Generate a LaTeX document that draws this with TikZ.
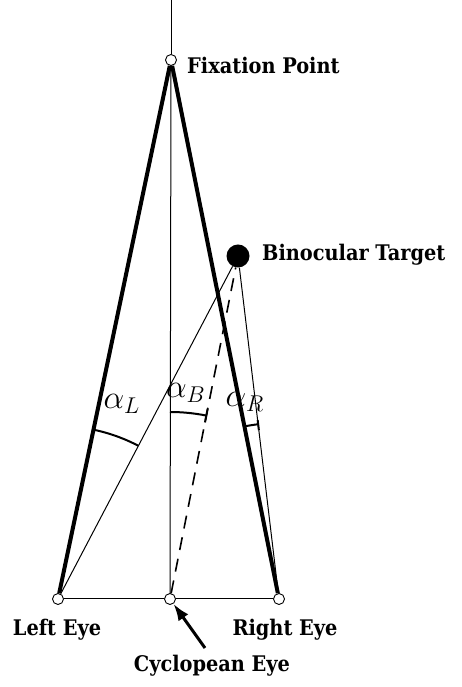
\documentclass[tikz,border=0pt]{standalone}
\usepackage{amsmath}
\usepackage{fontspec}
\newfontfamily\labelfont{DejaVu Serif Condensed}
\usetikzlibrary{arrows.meta, positioning, calc}

\tikzset{
  eye/.style={circle, draw, fill=white, line width=0.9pt, inner sep=0pt, minimum size=11pt},
  target/.style={circle, fill=black, inner sep=0pt, minimum size=23pt},
  bigline/.style={line width=4pt},
  thinline/.style={line width=1pt},
  anglearc/.style={line width=2pt},
  lbl/.style={font=\labelfont\fontsize{21.5}{25}\selectfont\bfseries, inner sep=0pt},
  alph/.style={font=\LARGE, scale=1.9, transform shape, inner sep=0pt}
}

\begin{document}
\begin{tikzpicture}[x=1pt, y=1pt]
  \useasboundingbox (0,0) rectangle (462,687);
  % eyes, fixation point and target (y measured upwards)
  \coordinate (top) at (171,687);
  \node[eye] (fix) at (171,627) {};
  \node[eye] (leye) at (58,88) {};
  \node[eye] (ceye) at (170,88) {};
  \node[eye] (reye) at (279,88) {};
  \node[target] (tgt) at (238,431) {};
  % lines of sight
  \draw[thinline] (top) -- (fix);
  \draw[thinline] (fix) -- (ceye);
  \draw[thinline] (leye) -- (ceye);
  \draw[thinline] (ceye) -- (reye);
  \draw[bigline] (leye) -- (fix);
  \draw[bigline] (reye) -- (fix);
  \draw[thinline] (leye) -- (tgt);
  \draw[thinline] (reye) -- (tgt);
  \draw[line width=1.6pt, dash pattern=on 13pt off 9pt] (ceye) -- (tgt);
  % angles
  \draw[anglearc] (leye) ++(78.2:173pt) arc[start angle=78.2, end angle=62.3, radius=173pt];
  \draw[anglearc] (ceye) ++(90:187pt) arc[start angle=90, end angle=78.8, radius=187pt];
  \draw[anglearc] ($(ceye)+(78.8:180pt)$) -- ($(ceye)+(78.8:194pt)$);
  \draw[anglearc] (reye) ++(101.3:176pt) arc[start angle=101.3, end angle=96.8, radius=176pt];
  \draw[anglearc] ($(reye)+(96.8:170pt)$) -- ($(reye)+(96.8:180pt)$);
  \node[alph] (aL) at (122,283) {$\alpha_L$};
  \node[alph] (aB) at (186,294) {$\alpha_B$};
  \node[alph] (aR) at (245,285) {$\alpha_R$};
  % labels
  \node[lbl, anchor=west] (fixlbl) at (187,622) {Fixation Point};
  \node[lbl, anchor=west] (tgtlbl) at (262,432) {Binocular Target};
  \node[lbl] (llbl) at (57,57) {Left Eye};
  \node[lbl] (rlbl) at (285,57) {Right Eye};
  \node[lbl] (clbl) at (212,21) {Cyclopean Eye};
  \coordinate (arrtail) at (205,39);
  \draw[line width=3pt, -{Latex[length=17pt, width=12pt]}] (arrtail) -- (ceye);
\end{tikzpicture}
\end{document}
